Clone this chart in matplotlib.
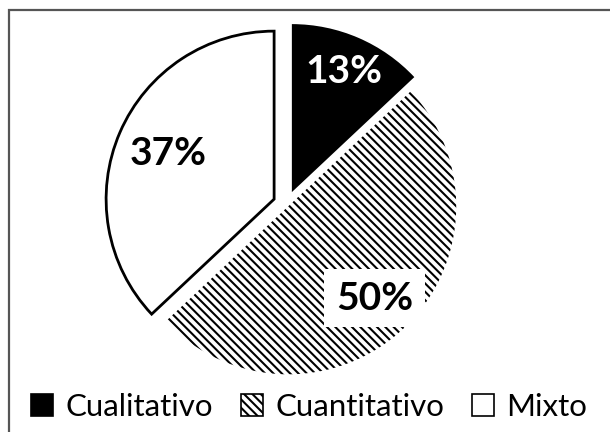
import matplotlib
matplotlib.use("Agg")
import matplotlib.pyplot as plt
import numpy as np
from matplotlib.patches import Rectangle

plt.rcParams['font.family'] = ['Lato', 'DejaVu Sans']
plt.rcParams['hatch.linewidth'] = 1.5
plt.rcParams['hatch.color'] = 'black'

categories = ["Cualitativo", "Cuantitativo", "Mixto"]
values = [13, 50, 37]

colors = ["black", "white", "white"]
hatches = [None, "\\\\\\\\", None]
edge_widths = [0.0, 0.0, 2.0]
explode_px = [13.5, 2.5, 13.5]
label_dist = [0.78, 0.75, 0.69]
label_colors = ["white", "black", "black"]

W, H = 610, 432
fig = plt.figure(figsize=(W / 100, H / 100), dpi=100, facecolor="white")
ax = fig.add_axes([0, 0, 1, 1])

cx, cy, R = 286.5, H - 204.5, 168

wedges, _ = ax.pie(values, colors=colors, explode=explode_px, startangle=90,
                   counterclock=False, radius=R, center=(cx, cy),
                   wedgeprops=dict(edgecolor="black"), labels=categories,
                   labeldistance=None)
for w, h, lw in zip(wedges, hatches, edge_widths):
    w.set_hatch(h)
    w.set_linewidth(lw)

for i, (w, v) in enumerate(zip(wedges, values)):
    mid = np.deg2rad((w.theta1 + w.theta2) / 2)
    x0, y0 = w.center
    x = x0 + w.r * label_dist[i] * np.cos(mid)
    y = y0 + w.r * label_dist[i] * np.sin(mid)
    kw = {}
    if i == 1:
        kw["bbox"] = dict(boxstyle="square,pad=0.3", facecolor="white",
                          edgecolor="none")
    ax.text(x, y, f"{v}%", ha="center", va="center", fontsize=28,
            fontweight="bold", color=label_colors[i], **kw)

ax.set_xlim(0, W)
ax.set_ylim(0, H)
ax.set_aspect("equal")
ax.axis("off")

leg = ax.legend(handles=wedges, labels=categories, loc="center",
                bbox_to_anchor=(309 / W, 1 - 407 / H), ncol=3, frameon=False,
                fontsize=22.5, handlelength=0.7, handleheight=0.7,
                handletextpad=0.4, columnspacing=0.9, borderpad=0)
for h in leg.legend_handles:
    h.set_linewidth(1.2)
    h.set_edgecolor("black")

fig.patches.append(Rectangle((9 / W, -0.1), 1.2, 1 - 10 / H + 0.1,
                             transform=fig.transFigure, fill=False,
                             edgecolor="#555555", linewidth=1.6,
                             clip_on=False))

fig.savefig("out.png", dpi=100, facecolor="white")
